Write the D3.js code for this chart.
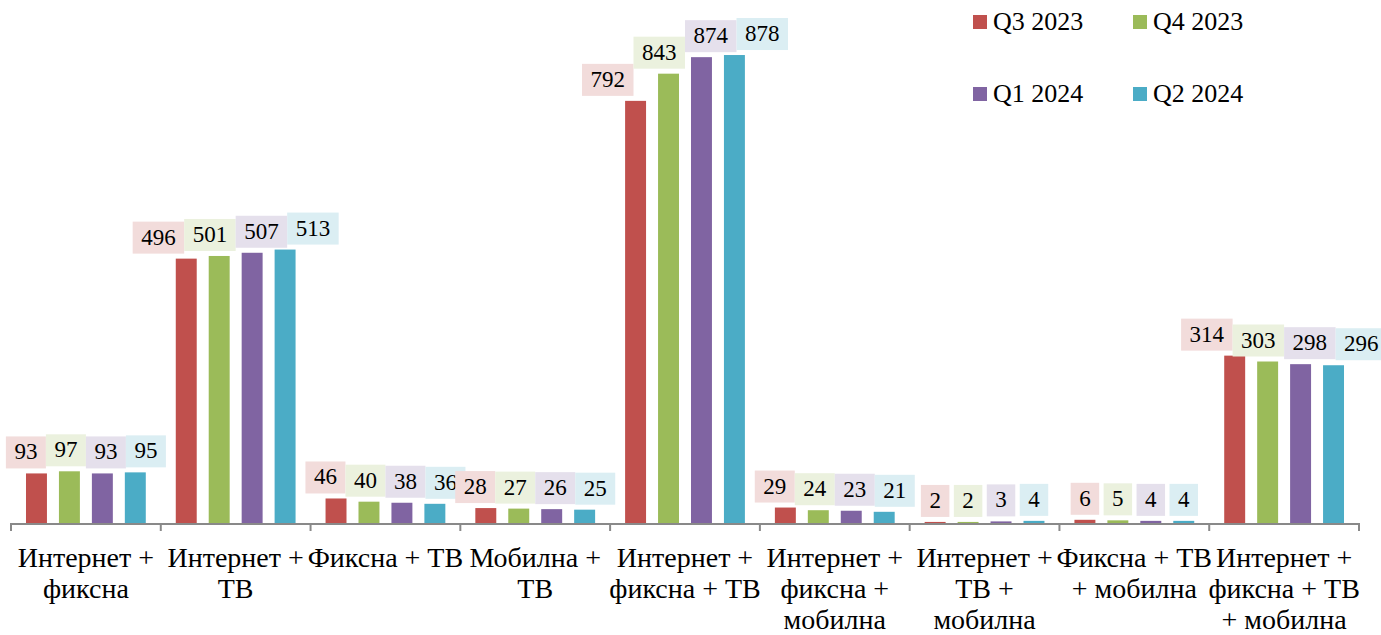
<!DOCTYPE html>
<html lang="bg">
<head>
<meta charset="utf-8">
<title>Пакети услуги</title>
<script src="https://cdn.jsdelivr.net/npm/d3@7"></script>
<style>
  body { margin: 0; background: #fff; }
  text { font-family: "Liberation Serif", "DejaVu Serif", serif; fill: #000; }
</style>
</head>
<body>
<script>
// categories (line breaks as in the original chart)
var categories = [
  "Интернет +\nфиксна",
  "Интернет +\nТВ",
  "Фиксна + ТВ",
  "Мобилна +\nТВ",
  "Интернет +\nфиксна + ТВ",
  "Интернет +\nфиксна +\nмобилна",
  "Интернет +\nТВ +\nмобилна",
  "Фиксна + ТВ\n+ мобилна",
  "Интернет +\nфиксна + ТВ\n+ мобилна"
];
var seriesNames = ["Q3 2023", "Q4 2023", "Q1 2024", "Q2 2024"];
var q3_2023 = [93, 496, 46, 28, 792, 29, 2, 6, 314];
var q4_2023 = [97, 501, 40, 27, 843, 24, 2, 5, 303];
var q1_2024 = [93, 507, 38, 26, 874, 23, 3, 4, 298];
var q2_2024 = [95, 513, 36, 25, 878, 21, 4, 4, 296];
var seriesValues = [q3_2023, q4_2023, q1_2024, q2_2024];

var colors = ["#C0504D", "#9BBB59", "#8064A2", "#4BACC6"];
var tints  = ["#F2DCDB", "#EBF1DE", "#E5E0EC", "#DBEEF3"];

var w = 1381, h = 635;
var left = 11, right = 1359, base = 523;

var svg = d3.select("body").append("svg")
  .attr("width", w).attr("height", h);

var x0 = d3.scaleBand().domain(d3.range(categories.length))
  .range([left, right]).padding(0);
var x1 = d3.scaleBand().domain(d3.range(seriesNames.length))
  .range([0, x0.bandwidth()]).paddingInner(0.364).paddingOuter(0.455);
var y = d3.scaleLinear().domain([0, 1000]).range([base, base - 533]);

// bars
seriesValues.forEach(function(vals, s) {
  svg.append("g").selectAll("rect")
    .data(vals).enter().append("rect")
    .attr("x", function(d, i) { return x0(i) + x1(s); })
    .attr("y", function(d) { return y(d); })
    .attr("width", x1.bandwidth())
    .attr("height", function(d) { return base - y(d); })
    .attr("fill", colors[s]);
});

// axis line + ticks
var axis = svg.append("g");
axis.append("line")
  .attr("x1", left).attr("x2", right).attr("y1", base + 1).attr("y2", base + 1)
  .attr("stroke", "#898989").attr("stroke-width", 2);
d3.range(categories.length + 1).forEach(function(i) {
  var xx = i < categories.length ? x0(i) : right;
  axis.append("line")
    .attr("x1", xx).attr("x2", xx).attr("y1", base).attr("y2", base + 8)
    .attr("stroke", "#898989").attr("stroke-width", 2);
});

// category labels
categories.forEach(function(c, i) {
  var t = svg.append("text")
    .attr("text-anchor", "middle")
    .attr("font-size", 28);
  c.split("\n").forEach(function(line, k) {
    t.append("tspan")
      .attr("x", x0(i) + x0.bandwidth() / 2)
      .attr("y", 567 + k * 31)
      .text(line);
  });
});

// data labels with boxes, spread horizontally to avoid overlap
var labelLayer = svg.append("g");
categories.forEach(function(c, i) {
  var items = seriesValues.map(function(vals, s) {
    var g = labelLayer.append("g");
    var rect = g.append("rect").attr("fill", tints[s]);
    var txt = g.append("text").attr("font-size", 23).attr("text-anchor", "middle")
      .text(vals[i]);
    var tw = txt.node().getComputedTextLength();
    return { g: g, rect: rect, txt: txt, w: tw + 17, h: 32,
             cx: x0(i) + x1(s) + x1.bandwidth() / 2, top: y(vals[i]) };
  });
  for (var iter = 0; iter < 50; iter++) {
    for (var k = 1; k < items.length; k++) {
      var a = items[k - 1], b = items[k];
      var overlap = (a.cx + a.w / 2) - (b.cx - b.w / 2);
      if (overlap > 0) { a.cx -= overlap / 2; b.cx += overlap / 2; }
    }
  }
  items.forEach(function(it) {
    var bottom = it.top - 5;
    it.rect.attr("x", it.cx - it.w / 2).attr("y", bottom - it.h)
      .attr("width", it.w).attr("height", it.h);
    it.txt.attr("x", it.cx).attr("y", bottom - 9);
  });
});

// legend
var legend = svg.append("g");
seriesNames.forEach(function(n, s) {
  var lx = 973 + (s % 2) * 160, ly = 15 + Math.floor(s / 2) * 72;
  legend.append("rect").attr("x", lx).attr("y", ly)
    .attr("width", 14).attr("height", 14).attr("fill", colors[s]);
  legend.append("text").attr("x", lx + 20).attr("y", ly + 15)
    .attr("font-size", 26).text(n);
});
</script>
</body>
</html>
